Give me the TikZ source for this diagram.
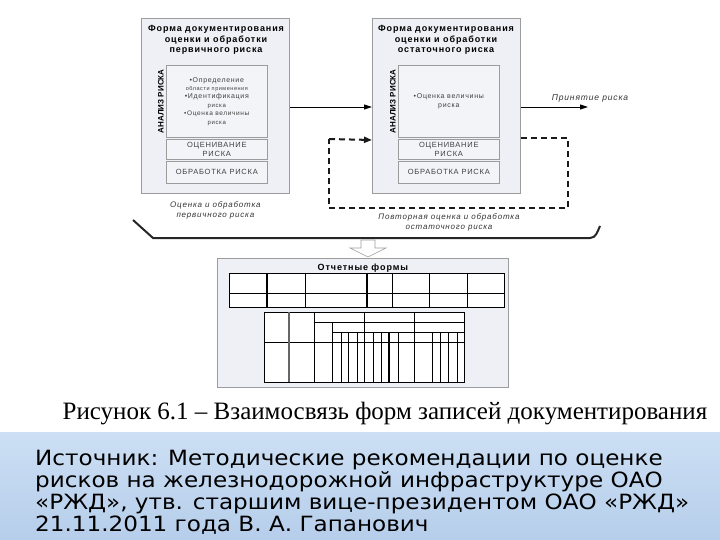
\documentclass[tikz,border=0pt]{standalone}
\usepackage{fontspec}
\setmainfont{Liberation Sans}[LetterSpace=10]
\newfontfamily\plainsans{Liberation Sans}
\newfontfamily\captionserif{Liberation Serif}
\newfontfamily\sourcefont[FakeStretch=1.1]{DejaVu Sans}
\usepackage{xcolor}
\usepackage{tikz}
\usetikzlibrary{
  arrows.meta,
  positioning,
  calc
}
\definecolor{FormFill}{HTML}{EEF0F5}
\definecolor{FormLine}{HTML}{9C9C9C}
\definecolor{CellFill}{HTML}{F3F4F8}
\definecolor{LoopLine}{HTML}{1A1A1A}
\definecolor{BandTop}{HTML}{CCDFF4}
\definecolor{BandBot}{HTML}{B6CEEB}

\tikzset{
  formbox/.style={draw=FormLine,fill=FormFill,line width=0.8pt,minimum width=148pt,
                  minimum height=175pt,anchor=north west,inner sep=0pt},
  cellbox/.style={draw=FormLine,fill=CellFill,line width=0.6pt,minimum width=101pt,
                  anchor=north west,inner sep=0pt,align=center,text=black!75},
  formtitle/.style={font=\bfseries\fontsize{9}{10.5}\selectfont,align=center,anchor=north},
  sidelabel/.style={font=\plainsans\bfseries\fontsize{8}{9}\selectfont,rotate=90,anchor=south,inner sep=1pt},
  flowarrow/.style={-{Triangle[length=8pt,width=5pt]},line width=0.8pt},
  loopline/.style={line width=2pt,dash pattern=on 6pt off 4pt,draw=LoopLine},
  note/.style={font=\itshape\fontsize{8}{10}\selectfont,align=center,text=black!80},
  thin rule/.style={line width=0.7pt},
  thick rule/.style={line width=1.4pt}
}

\begin{document}
\begin{tikzpicture}[x=1pt,y=-1pt]
  \useasboundingbox (0,0) rectangle (720,540);

  % source band
  \shade[top color=BandTop,bottom color=BandBot] (0,432) rectangle (720,540);

  % primary risk form
  \node[formbox] (primary) at (141,18) {};
  \node[formtitle] (ptitle) at (216,22) {Форма документирования\\оценки и обработки\\первичного риска};
  \node[cellbox,minimum height=72pt,font=\fontsize{6.5}{8.4}\selectfont] (panalysis) at (166,65)
    {{\fontsize{7}{8.4}\selectfont •Определение}\\
     {\fontsize{5.5}{8.4}\selectfont области применения}\\
     {\fontsize{7}{8.4}\selectfont •Идентификация}\\
     {\fontsize{6}{8.4}\selectfont риска}\\
     {\fontsize{6.5}{8.4}\selectfont •Оценка величины}\\
     {\fontsize{6}{8.4}\selectfont риска}};
  \node[cellbox,minimum height=20pt,font=\fontsize{7.5}{8.5}\selectfont] (passess) at (166,139)
    {ОЦЕНИВАНИЕ\\РИСКА};
  \node[cellbox,minimum height=22pt,font=\fontsize{7.5}{8.5}\selectfont] (ptreat) at (166,161)
    {ОБРАБОТКА РИСКА};
  \node[sidelabel] (pside) at ([xshift=-1pt]panalysis.west) {АНАЛИЗ РИСКА};
  \node[note,below=4pt of primary] (pnote) {Оценка и обработка\\первичного риска};

  % residual risk form
  \node[formbox] (residual) at (372,18) {};
  \node[formtitle] (rtitle) at (446,22) {Форма документирования\\оценки и обработки\\остаточного риска};
  \node[cellbox,minimum height=72pt,font=\fontsize{7}{8.4}\selectfont] (ranalysis) at (398,65)
    {•Оценка величины\\риска};
  \node[cellbox,minimum height=20pt,font=\fontsize{7.5}{8.5}\selectfont] (rassess) at (398,139)
    {ОЦЕНИВАНИЕ\\РИСКА};
  \node[cellbox,minimum height=22pt,font=\fontsize{7.5}{8.5}\selectfont] (rtreat) at (398,161)
    {ОБРАБОТКА РИСКА};
  \node[sidelabel] (rside) at ([xshift=-1pt]ranalysis.west) {АНАЛИЗ РИСКА};

  % connectors
  \coordinate (accept) at (588,107);
  \coordinate (loopne) at (568,138);
  \coordinate (loopsw) at (329,208);
  \draw[flowarrow] (primary.east |- accept) -- (residual.west |- accept);
  \draw[flowarrow] (residual.east |- accept) -- (accept);
  \node[note,font=\itshape\fontsize{8.5}{10}\selectfont] (acceptlbl) at (590,98) {Принятие риска};
  \draw[loopline] (residual.east |- loopne) -- (loopne) |- (loopsw) -- (loopsw |- rassess.north);
  \draw[loopline,-{Triangle[length=8pt,width=6pt]}] (loopsw |- rassess.north) -- ([yshift=-1pt]residual.west |- rassess.north);
  \node[note] (rnote) at (449,222) {Повторная оценка и обработка\\остаточного риска};

  % bracket and down arrow
  \draw[line width=2pt,draw=black!85] (133,220) -- (153,238) -- (590,238) to[out=0,in=-115] (600,226);
  \draw[draw=FormLine,fill=white,line width=0.6pt]
    (361,240) -- (375,240) -- (375,248) -- (386,248) -- (368,257) -- (350,248) -- (361,248) -- cycle;

  % report forms
  \node[formbox,minimum width=291pt,minimum height=129pt] (reports) at (217,258) {};
  \node[font=\bfseries\fontsize{9}{10}\selectfont,anchor=north] (rptitle) at ([yshift=-2pt]reports.north) {Отчетные формы};

  % upper table
  \draw[thin rule,fill=white] (229,273) rectangle (504,307);
  \draw[thin rule] (229,293) -- (504,293);
  \foreach \cx in {305,392,429,467}
    \draw[thin rule] (\cx,273) -- (\cx,307);
  \foreach \cx in {267,367}
    \draw[thick rule] (\cx,273) -- (\cx,307);

  % lower table
  \draw[thin rule,fill=white] (264,312) rectangle (464,382);
  \draw[white,line width=1pt] (265,362) -- (463,362);
  \draw[thin rule] (314,322) -- (464,322);
  \draw[thin rule] (332,332) -- (464,332);
  \draw[thin rule] (264,342) -- (464,342);
  \draw[line width=1.4pt,draw=black!60] (289,312) -- (289,382);
  \foreach \cx in {314,364,414}
    \draw[thin rule] (\cx,312) -- (\cx,382);
  \draw[thin rule] (332,322) -- (332,382);
  \foreach \cx in {341,348,357,373,381,398,432,440,448,457}
    \draw[thin rule] (\cx,332) -- (\cx,382);
  \draw[thick rule] (389,332) -- (389,382);

  % figure caption
  \node[font=\captionserif\fontsize{25}{28}\selectfont,anchor=base] (figcap) at (385,419)
    {Рисунок 6.1 – Взаимосвязь форм записей документирования};

  % source text
  \node[font=\sourcefont\fontsize{21}{22}\selectfont,align=left,anchor=north west,inner sep=0pt] (source) at (35,450)
    {Источник: Методические рекомендации по оценке\\
     рисков на железнодорожной инфраструктуре ОАО\\
     «РЖД», утв. старшим вице-президентом ОАО «РЖД»\\
     21.11.2011 года В. А. Гапанович};
\end{tikzpicture}
\end{document}
